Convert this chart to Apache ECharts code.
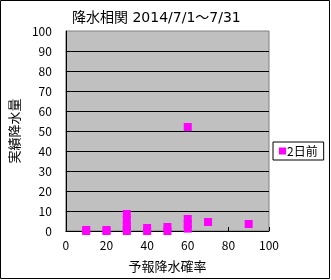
<!DOCTYPE html>
<html><head><meta charset="utf-8">
<script src="https://cdn.jsdelivr.net/npm/echarts@6/dist/echarts.min.js"></script>
<style>html,body{margin:0;padding:0;background:#fff}#c{width:331px;height:280px}</style>
</head><body><div id="c"></div>
<script>
const titleText = '降水相関 2014/7/1～7/31';
const seriesName = '2日前';
const xName = '予報降水確率';
const yName = '実績降水量';
const forecastProb = [10, 10, 20, 20, 30, 30, 30, 30, 30, 40, 40, 50, 50, 60, 60, 60, 60, 70, 90];
const actualRain   = [0, 0.5, 0, 0.5, 0, 1, 3, 5.5, 8.5, 0, 1.5, 0, 2, 1.2, 3.5, 6, 52, 4.5, 3.5];
const xTicks = [0, 20, 40, 60, 80, 100];
const yTicks = [0, 10, 20, 30, 40, 50, 60, 70, 80, 90, 100];

const font = '"Noto Sans CJK JP", "Noto Sans", sans-serif';
const titleFont = '"DejaVu Sans", "Noto Sans CJK JP", sans-serif';
const chart = echarts.init(document.getElementById('c'), null, {renderer: 'canvas'});
chart.setOption({
  animation: false,
  backgroundColor: '#fff',
  title: {text: titleText, left: 67, top: 6, textStyle: {fontSize: 14, fontWeight: 'normal', color: '#000', fontFamily: titleFont}},
  grid: {left: 61, top: 31, right: 62, bottom: 49, show: true, backgroundColor: '#C0C0C0', borderColor: '#808080', borderWidth: 1},
  legend: {
    data: [seriesName], left: 273, top: 142, orient: 'vertical',
    itemWidth: 7, itemHeight: 7, itemGap: 0, icon: 'rect',
    borderColor: '#000', borderWidth: 1, padding: [3, 6, 3, 6],
    textStyle: {fontSize: 12, color: '#000', fontFamily: font, padding: [0, 0, 0, -4]}
  },
  xAxis: {
    type: 'value', min: xTicks[0], max: xTicks[xTicks.length - 1], interval: 20,
    name: xName, nameLocation: 'middle', nameGap: 29,
    nameTextStyle: {fontSize: 13, color: '#000', fontFamily: font},
    axisLine: {show: true, lineStyle: {color: '#000', width: 1}},
    axisTick: {show: true, inside: true, length: 4, lineStyle: {color: '#000'}},
    axisLabel: {fontSize: 12, color: '#000', margin: 8, fontFamily: font},
    splitLine: {show: false}
  },
  yAxis: {
    type: 'value', min: yTicks[0], max: yTicks[yTicks.length - 1], interval: 10,
    name: yName, nameLocation: 'middle', nameGap: 40, nameRotate: 90,
    nameTextStyle: {fontSize: 13, color: '#000', fontFamily: font},
    axisLine: {show: true, lineStyle: {color: '#000', width: 1}},
    axisTick: {show: false},
    axisLabel: {fontSize: 12, color: '#000', margin: 14, fontFamily: font},
    splitLine: {show: true, showMaxLine: false, lineStyle: {color: '#000', width: 1}}
  },
  series: [{
    name: seriesName, type: 'scatter', symbol: 'rect', symbolSize: 8,
    itemStyle: {color: '#FF00FF', opacity: 1},
    data: forecastProb.map((x, i) => [x, actualRain[i]]),
    clip: false
  }],
  graphic: [{type: 'rect', shape: {x: 0.5, y: 0.5, width: 329, height: 278}, style: {fill: 'none', stroke: '#000', lineWidth: 1}, silent: true}]
});
</script></body></html>
